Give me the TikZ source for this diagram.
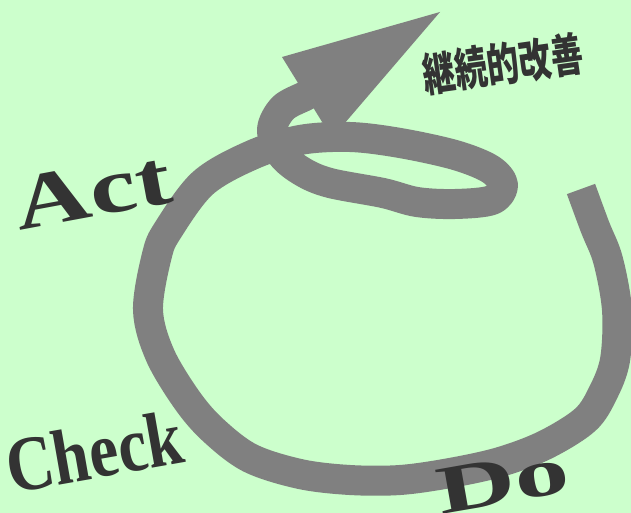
\documentclass[tikz,border=0pt]{standalone}
\usepackage{fontspec}
\setmainfont{Liberation Serif}
\newfontfamily\jpfont{Noto Sans CJK JP}

\definecolor{paper}{HTML}{CCFFCC}
\definecolor{bandgray}{HTML}{808080}
\definecolor{ink}{HTML}{333333}

\begin{document}
\begin{tikzpicture}[x=1pt, y=-1pt,
		word/.style={text=ink, inner sep=0pt, anchor=base, font=\bfseries\fontsize{#1}{#1}\selectfont},
		band/.style={draw=bandgray, line width=30pt, line join=round}]
	\fill[paper] (0,0) rectangle (631,513);
	\useasboundingbox (0,0) rectangle (631,513);

	% arrow head, the band runs into it
	\fill[bandgray] (440,12) -- (282,57) -- (332,138) -- cycle;
	\draw[band] plot[smooth, tension=0.55] coordinates {
		(581,189) (595,227) (608,260) (617,310) (615,360) (603,393) (585,420)
		(545,445) (500,462) (450,473) (400,480) (350,480) (300,474) (250,458)
		(213,430) (187,400) (160,355) (148,310) (157,255) (168,230) (203,183)
		(252,155) (300,140) (350,137) (400,143) (455,155) (490,169) (503,185)
		(492,200) (455,204) (417,202) (383,193) (330,183) (303,172) (282,155)
		(272,130) (283,108) (305,96) (312,92)};

	\node[word=78, rotate=10.5, xscale=1.35] (act) at (97,216) {Act};
	\node[word=78, rotate=10, xscale=0.84] (check) at (99,478) {Check};
	\node[word=68, rotate=10, xscale=1.6] (do) at (507,503) {Do};
	\node[text=ink, inner sep=0pt, rotate=8, xscale=0.7, font=\jpfont\bfseries\fontsize{46}{46}\selectfont] (kaizen) at (503,64) {継続的改善};
\end{tikzpicture}
\end{document}
